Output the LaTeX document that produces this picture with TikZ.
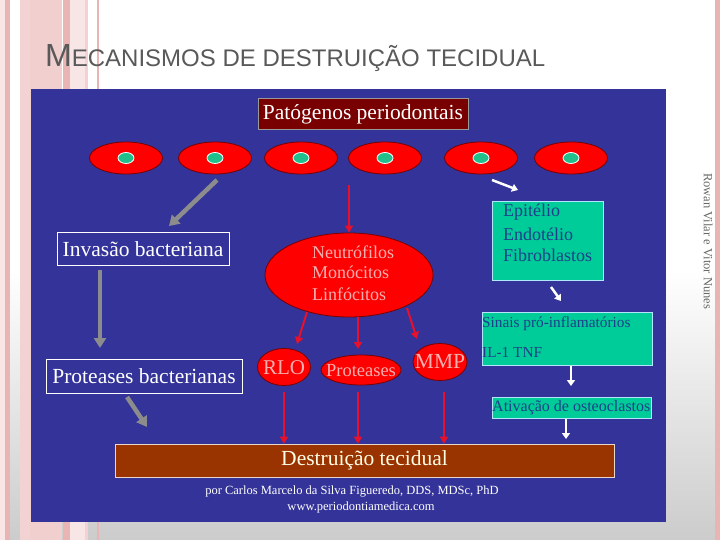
\documentclass[tikz,border=0pt]{standalone}
\usepackage{fontspec}
\setmainfont{Liberation Serif}
\newfontfamily\titlefont{Liberation Sans}
\usetikzlibrary{shapes.geometric,arrows.meta}
\definecolor{panel}{HTML}{333399}
\definecolor{cellred}{HTML}{FF0000}
\definecolor{nuc}{HTML}{1FC08C}
\definecolor{darkred}{HTML}{780000}
\definecolor{brown}{HTML}{993300}
\definecolor{teal}{HTML}{00CC99}
\definecolor{tealtext}{HTML}{1F3F8A}
\definecolor{pinktext}{HTML}{F6B0B0}
\definecolor{arrred}{HTML}{E8102A}
\definecolor{arrgray}{HTML}{8C8C8C}
\definecolor{stripeA}{HTML}{E8B4B4}
\definecolor{stripeB}{HTML}{F2D2D2}
\definecolor{stripeC}{HTML}{F8E6E6}
\tikzset{
  cell/.style={ellipse,draw=darkred,thick,fill=cellred,minimum width=73pt,minimum height=32pt,inner sep=0pt},
  nucleus/.style={ellipse,draw=white,thick,fill=nuc,minimum width=16pt,minimum height=11pt,inner sep=0pt},
  whitebox/.style={draw=white,line width=0.8pt,text=white,inner sep=0pt,anchor=north west},
  bigtxt/.style={font=\fontsize{21.5}{22}\selectfont},
  tealbox/.style={draw=cyan!30,line width=0.8pt,fill=teal,anchor=north west,inner sep=0pt},
  tealtxt/.style={text=tealtext,anchor=west,inner sep=0pt},
  redell/.style={ellipse,draw=darkred,thick,fill=cellred,inner sep=0pt},
  pinklbl/.style={text=pinktext,inner sep=0pt},
  redarrow/.style={draw=arrred,line width=2pt,-{Triangle[length=7pt,width=8pt]}},
  grayarrow/.style={draw=arrgray,line width=4.5pt,-{Triangle[length=10pt,width=12pt]}},
  whitearrow/.style={draw=white,line width=2.5pt,-{Triangle[length=6pt,width=8pt]}},
}
\begin{document}
\begin{tikzpicture}[x=1pt,y=-1pt]
\useasboundingbox (0,0) rectangle (720,540);
% background gradient
\shade[top color=white,bottom color=black!20,middle color=white] (0,0) rectangle (720,540);
% left stripes
\fill[stripeC] (0,0) rectangle (5,540);
\fill[stripeA] (5,0) rectangle (10,540);
\fill[stripeB] (20,0) rectangle (30,540);
\fill[stripeB!90!stripeA] (30,0) rectangle (62,540);
\fill[stripeA] (63,0) rectangle (70,540);
\fill[stripeC] (70,0) rectangle (85,540);
\fill[stripeB] (85,0) rectangle (88,540);
\fill[stripeA] (97,0) rectangle (99,540);
% right stripe
\fill[stripeA] (715,0) rectangle (720,540);
% title
\node[anchor=base west,inner sep=0pt,text=black!65] (title) at (45,67)
  {\titlefont\fontsize{32}{32}\selectfont M\fontsize{24}{24}\selectfont ECANISMOS DE DESTRUIÇÃO TECIDUAL};
% side text
\node[rotate=-90,text=black!60,inner sep=0pt,font=\fontsize{12.5}{12.5}\selectfont] (side) at (708,241) {Rowan Vilar e Vitor Nunes};
% panel
\fill[panel] (31,89) rectangle (666,522);
% top box
\node[draw=black!40,fill=darkred,text=white,bigtxt,minimum width=210pt,minimum height=31pt,inner sep=0pt] (pat) at (363,114) {Patógenos periodontais};
% cells
\foreach \i/\x in {1/126,2/215,3/301,4/385,5/481,6/571}{
  \node[cell] (c\i) at (\x,158) {};
  \node[nucleus] (n\i) at (\x,158) {};
}
% left chain
\node[whitebox,minimum width=172pt,minimum height=33pt] (inv) at (57,232) {};
\node[text=white,bigtxt,inner sep=0pt] (invt) at (143,249) {Invasão bacteriana};
\node[whitebox,minimum width=196pt,minimum height=34pt] (prot) at (46,359) {};
\node[text=white,bigtxt,inner sep=0pt] (prott) at (144,376.5) {Proteases bacterianas};
\coordinate (g1s) at (217,180); \coordinate (g1e) at (169,226);
\draw[grayarrow] (g1s) -- (g1e);
\coordinate (g2s) at (100,270); \coordinate (g2e) at (100,348);
\draw[grayarrow] (g2s) -- (g2e);
\coordinate (g3s) at (127,397); \coordinate (g3e) at (147,427);
\draw[grayarrow] (g3s) -- (g3e);
% middle
\node[redell,minimum width=168pt,minimum height=84pt] (big) at (349,275) {};
\node[anchor=west,pinklbl,font=\fontsize{18}{18}\selectfont] (l1) at (312,252) {Neutrófilos};
\node[anchor=west,pinklbl,font=\fontsize{18}{18}\selectfont] (l2) at (312,272) {Monócitos};
\node[anchor=west,pinklbl,font=\fontsize{18}{18}\selectfont] (l3) at (312,294) {Linfócitos};
\coordinate (r0s) at (349,185);
\draw[redarrow] (r0s) -- (big.north);
\node[redell,minimum width=53pt,minimum height=37pt] (rlo) at (284,367) {};
\node[pinklbl,font=\fontsize{21}{21}\selectfont] (rlot) at (284,368) {RLO};
\node[redell,minimum width=80pt,minimum height=30pt] (pro) at (361,370) {};
\node[pinklbl,font=\fontsize{18.5}{18.5}\selectfont] (prot2) at (361,371) {Proteases};
\node[redell,minimum width=54pt,minimum height=37pt] (mmp) at (440,362) {};
\node[pinklbl,font=\fontsize{21.5}{21.5}\selectfont] (mmpt) at (440,361) {MMP};
\coordinate (r1s) at (307,312); \coordinate (r1e) at (297,344);
\coordinate (r2s) at (358,317); \coordinate (r2e) at (358,349);
\coordinate (r3s) at (407,308); \coordinate (r3e) at (417,339);
\draw[redarrow] (r1s) -- (r1e);
\draw[redarrow] (r2s) -- (r2e);
\draw[redarrow] (r3s) -- (r3e);
% destruction box
\node[draw=white!80!brown,line width=0.6pt,fill=brown,text=white!90!yellow,bigtxt,minimum width=499pt,minimum height=33pt,inner sep=0pt] (dest) at (364.5,460.5) {Destruição tecidual};
\coordinate (d1) at (284,392); \coordinate (d2) at (358,392); \coordinate (d3) at (444,392);
\draw[redarrow] (d1) -- (d1 |- dest.north);
\draw[redarrow] (d2) -- (d2 |- dest.north);
\draw[redarrow] (d3) -- (d3 |- dest.north);
% credit
\node[text=white,font=\fontsize{12.5}{13}\selectfont,inner sep=0pt] (cred1) at (352,492) {por Carlos Marcelo da Silva Figueredo, DDS, MDSc, PhD};
\node[text=white,font=\fontsize{12.5}{13}\selectfont,inner sep=0pt] (cred2) at (361,507) {www.periodontiamedica.com};
% right chain
\node[tealbox,minimum width=111pt,minimum height=79pt] (epi) at (492,201) {};
\node[tealtxt,font=\fontsize{18}{18}\selectfont] (e1) at (503,212) {Epitélio};
\node[tealtxt,font=\fontsize{18}{18}\selectfont] (e2) at (503,234) {Endotélio};
\node[tealtxt,font=\fontsize{18}{18}\selectfont] (e3) at (503,255) {Fibroblastos};
\node[tealbox,minimum width=170pt,minimum height=53pt] (sin) at (482,312) {};
\node[tealtxt,font=\fontsize{15.3}{15}\selectfont] (s1) at (482,324) {Sinais pró-inflamatórios};
\node[tealtxt,font=\fontsize{15.3}{15}\selectfont] (s2) at (482,352) {IL-1 TNF};
\node[tealbox,minimum width=159pt,minimum height=21pt] (ati) at (492,397) {};
\node[tealtxt,font=\fontsize{16}{16}\selectfont] (a1) at (492,407.5) {Ativação de osteoclastos};
\coordinate (w1s) at (492,180); \coordinate (w1e) at (518,190);
\draw[whitearrow] (w1s) -- (w1e);
\coordinate (w2s) at (551,287); \coordinate (w2e) at (561,301);
\draw[whitearrow] (w2s) -- (w2e);
\coordinate (w3s) at (571,366);
\draw[whitearrow] (w3s) -- (571,386);
\coordinate (w4s) at (566,419);
\draw[whitearrow] (w4s) -- (566,439);
\end{tikzpicture}
\end{document}
